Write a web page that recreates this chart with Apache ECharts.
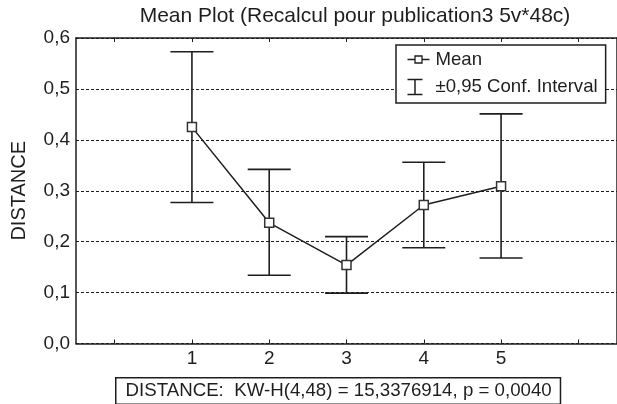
<!DOCTYPE html>
<html>
<head>
<meta charset="utf-8">
<script src="https://cdn.jsdelivr.net/npm/echarts@6/dist/echarts.min.js"></script>
<style>
html,body{margin:0;padding:0;background:#fff;}
#chart{width:617px;height:404px;}
</style>
</head>
<body>
<div id="chart"></div>
<script>
// Data
var categories = ['0', '1', '2', '3', '4', '5', '6'];
var groups = ['1', '2', '3', '4', '5'];
var means = [0.425, 0.237, 0.154, 0.272, 0.309];
var lower = [0.277, 0.134, 0.099, 0.188, 0.168];
var upper = [0.573, 0.342, 0.210, 0.356, 0.451];
var yTicks = [0, 0.1, 0.2, 0.3, 0.4, 0.5, 0.6];
var titleText = 'Mean Plot (Recalcul pour publication3 5v*48c)';
var statText = 'DISTANCE:  KW-H(4,48) = 15,3376914, p = 0,0040';
var legendNames = ['Mean', '\u00b10,95 Conf. Interval'];

var FONT = '"Liberation Sans", Arial, sans-serif';
var INK = '#1e1e1e';

var chart = echarts.init(document.getElementById('chart'), null, {renderer: 'canvas'});

var meanData = groups.map(function (g, i) { return [g, means[i]]; });
var ciData = groups.map(function (g, i) { return [g, lower[i], upper[i]]; });

function fmtY(v) { return v.toFixed(1).replace('.', ','); }

var option = {
  animation: false,
  backgroundColor: '#fff',
  textStyle: {fontFamily: FONT, color: INK},
  title: {
    text: titleText,
    left: 350,
    top: 1,
    textAlign: 'center',
    textStyle: {fontFamily: FONT, fontSize: 21, fontWeight: 'normal', color: INK}
  },
  grid: {left: 76, top: 38, width: 548, height: 305.5, containLabel: false},
  legend: {
    orient: 'vertical',
    left: 396,
    top: 45,
    padding: [4, 8, 6, 9],
    itemGap: 7,
    itemWidth: 22,
    itemHeight: 16,
    borderColor: INK,
    borderWidth: 1.5,
    backgroundColor: '#fff',
    textStyle: {fontFamily: FONT, fontSize: 18.6, color: INK, padding: [0, 0, 0, 1]},
    data: [
      {name: legendNames[0], icon: 'path://M0,8H7.5M14.5,8H22M7.5,4.5H14.5V11.5H7.5ZM0,0M22,16',
       itemStyle: {color: 'none', borderColor: INK, borderWidth: 1.3}},
      {name: legendNames[1], icon: 'path://M0,0.5H15M7.5,0.5V15.5M0,15.5H15M22,8',
       itemStyle: {color: 'none', borderColor: INK, borderWidth: 1.5}}
    ]
  },
  xAxis: [{
    type: 'category',
    data: categories,
    boundaryGap: true,
    position: 'bottom',
    axisLine: {show: true, onZero: false, lineStyle: {color: INK, width: 1.5}},
    axisTick: {show: true, inside: true, alignWithLabel: true, interval: 0, length: 4, lineStyle: {color: INK, width: 1}},
    axisLabel: {
      interval: 0, margin: 6, fontSize: 19, fontFamily: FONT, color: INK,
      formatter: function (v) { return groups.indexOf(v) >= 0 ? v : ''; }
    },
    splitLine: {show: false}
  }, {
    type: 'category',
    data: categories,
    boundaryGap: true,
    position: 'top',
    axisLine: {show: true, onZero: false, lineStyle: {color: INK, width: 1.5}},
    axisTick: {show: true, inside: true, alignWithLabel: true, interval: 0, length: 4, lineStyle: {color: INK, width: 1}},
    axisLabel: {show: false},
    splitLine: {show: false}
  }],
  yAxis: [{
    type: 'value',
    min: yTicks[0],
    max: yTicks[yTicks.length - 1],
    interval: 0.1,
    position: 'left',
    name: 'DISTANCE',
    nameLocation: 'middle',
    nameGap: 47,
    nameTextStyle: {fontFamily: FONT, fontSize: 20, color: INK},
    axisLine: {show: true, onZero: false, lineStyle: {color: INK, width: 1.5}},
    axisTick: {show: false},
    axisLabel: {margin: 6, fontSize: 19, fontFamily: FONT, color: INK, formatter: fmtY},
    splitLine: {show: true, lineStyle: {color: INK, width: 1, type: [3, 2]}}
  }, {
    type: 'value',
    min: yTicks[0],
    max: yTicks[yTicks.length - 1],
    interval: 0.1,
    position: 'right',
    axisLine: {show: true, onZero: false, lineStyle: {color: INK, width: 1.5}},
    axisTick: {show: false},
    axisLabel: {show: false},
    splitLine: {show: false}
  }],
  graphic: [{
    type: 'text',
    left: 115,
    top: 377,
    z: 100,
    style: {
      text: statText,
      font: '18.7px ' + FONT,
      fill: INK,
      backgroundColor: '#fff',
      borderColor: INK,
      borderWidth: 1.5,
      padding: [3, 8, 3, 9]
    }
  }],
  series: [{
    name: legendNames[1],
    type: 'custom',
    xAxisIndex: 0,
    yAxisIndex: 0,
    data: ciData,
    encode: {x: 0, y: [1, 2]},
    renderItem: function (params, api) {
      var x = api.value(0);
      var lo = api.coord([x, api.value(1)]);
      var hi = api.coord([x, api.value(2)]);
      var hw = 21.5;
      var st = {stroke: INK, lineWidth: 1.6, fill: null};
      return {
        type: 'group',
        children: [
          {type: 'line', shape: {x1: lo[0], y1: lo[1], x2: hi[0], y2: hi[1]}, style: st},
          {type: 'line', shape: {x1: hi[0] - hw, y1: hi[1], x2: hi[0] + hw, y2: hi[1]}, style: st},
          {type: 'line', shape: {x1: lo[0] - hw, y1: lo[1], x2: lo[0] + hw, y2: lo[1]}, style: st}
        ]
      };
    },
    z: 2
  }, {
    name: legendNames[0],
    type: 'line',
    xAxisIndex: 0,
    yAxisIndex: 0,
    data: meanData,
    symbol: 'rect',
    symbolSize: 9,
    showAllSymbol: true,
    lineStyle: {color: INK, width: 1.5},
    itemStyle: {color: '#fff', borderColor: '#333', borderWidth: 1.5},
    z: 3
  }]
};

chart.setOption(option);
</script>
</body>
</html>
